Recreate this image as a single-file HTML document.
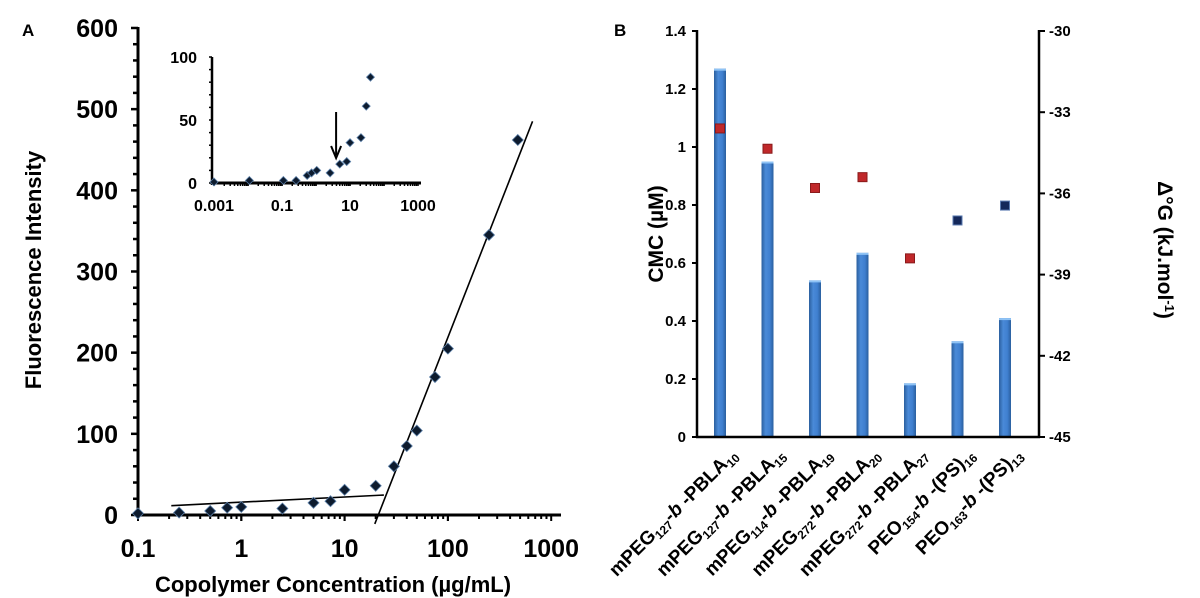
<!DOCTYPE html>
<html><head><meta charset="utf-8"><style>
html,body{margin:0;padding:0;background:#fff;}
svg{display:block;font-family:"Liberation Sans",Arial,sans-serif;font-weight:bold;}
</style></head><body>
<svg id="chart" width="1200" height="598" viewBox="0 0 1200 598">
<defs>
<linearGradient id="barg" x1="0" x2="1" y1="0" y2="0">
<stop offset="0" stop-color="#2a5f9e"/><stop offset="0.35" stop-color="#4a8ad8"/><stop offset="0.7" stop-color="#3f7fcf"/><stop offset="1" stop-color="#2a5f9e"/>
</linearGradient>
</defs>
<g id="pa"></g>
<g id="pb"></g>
</svg>
<script>
// Panel A data
const mainX = [0.1,0.25,0.5,0.73,1,2.5,5,7.3,10,20,30,40,50,75,100,250,475];
const mainY = [2,3,5,9,10,8,15,17,31,36,60,85,104,170,205,345,462];
const fitLowX = [0.21,24]; const fitLowY = [11.5,24.6];
const fitHighX = [19.6,660]; const fitHighY = [-11,485];
const mainYTicks = [0,100,200,300,400,500,600];
const mainXTicks = [0.1,1,10,100,1000];
const insetX = [0.001,0.011,0.11,0.26,0.55,0.74,1.05,2.6,5,8,10,21,30,40];
const insetY = [0.8,2,2,2,6,8,10,8,15,17,32,36,61,84];
const insetYTicks = [0,50,100];
const insetXTicks = [0.001,0.1,10,1000];
// Panel B data
const cats = ["mPEG|127|-b -PBLA|10","mPEG|127|-b -PBLA|15","mPEG|114|-b -PBLA|19","mPEG|272|-b -PBLA|20","mPEG|272|-b -PBLA|27","PEO|154|-b -(PS)|16","PEO|163|-b -(PS)|13"];
const cmc = [1.27,0.95,0.54,0.635,0.185,0.33,0.41];
const dG = [-33.6,-34.35,-35.8,-35.4,-38.4,-37.0,-36.45];
const dGColor = ["r","r","r","r","r","b","b"];
const cmcTicks = [0,0.2,0.4,0.6,0.8,1,1.2,1.4];
const dGTicks = [-45,-42,-39,-36,-33,-30];

const NS="http://www.w3.org/2000/svg";
function mk(parent,tag,attrs,text){const e=document.createElementNS(NS,tag);for(const k in attrs)e.setAttribute(k,attrs[k]);if(text!==undefined)e.textContent=text;parent.appendChild(e);return e;}
const pa=document.getElementById('pa'), pb=document.getElementById('pb');

// ---- Panel A main
const ax={x0:138,dec:103.3,y0:515,yk:0.8117};
const X=v=>ax.x0+(Math.log10(v)+1)*ax.dec;
const Y=v=>ax.y0-v*ax.yk;
let t=mk(pa,'text',{x:22,y:36,'font-size':17},'A');

let yl=mk(pa,'line',{x1:138,y1:27,x2:138,y2:517,stroke:'#000','stroke-width':3});

let xl=mk(pa,'line',{x1:136,y1:515,x2:561,y2:515,stroke:'#000','stroke-width':3});

for(let v=0;v<=600;v+=20){mk(pa,'line',{x1:v%100?133:131,y1:Y(v),x2:138,y2:Y(v),stroke:'#000','stroke-width':2.5});}
mainYTicks.forEach(v=>{const e=mk(pa,'text',{x:118,y:Y(v)+9,'text-anchor':'end','font-size':25},String(v));
});
for(let d=-1;d<3;d++){for(let m=1;m<=10;m++){const v=m*Math.pow(10,d);mk(pa,'line',{x1:X(v),y1:515,x2:X(v),y2:m==1||m==10?521:519,stroke:'#000','stroke-width':2});}}
mainXTicks.forEach(v=>{const e=mk(pa,'text',{x:X(v),y:557,'text-anchor':'middle','font-size':25},String(v));
});
t=mk(pa,'text',{x:333,y:592,'text-anchor':'middle','font-size':22},'Copolymer Concentration (µg/mL)');

t=mk(pa,'text',{x:0,y:0,transform:'translate(41,270) rotate(-90)','text-anchor':'middle','font-size':22},'Fluorescence Intensity');

let l1=mk(pa,'line',{x1:X(fitLowX[0]),y1:Y(fitLowY[0]),x2:X(fitLowX[1]),y2:Y(fitLowY[1]),stroke:'#000','stroke-width':1.6});

let l2=mk(pa,'line',{x1:X(fitHighX[0]),y1:Y(fitHighY[0]),x2:X(fitHighX[1]),y2:Y(fitHighY[1]),stroke:'#000','stroke-width':1.6});

function diamond(g,cx,cy,r){return mk(g,'path',{d:`M${cx} ${cy-r}L${cx+r} ${cy}L${cx} ${cy+r}L${cx-r} ${cy}Z`,fill:'#0d1b2e',stroke:'#5b7fa8','stroke-width':0.8});}
mainX.forEach((v,i)=>{const p=diamond(pa,X(v),Y(mainY[i]),5.5);
});

// ---- Inset
const ins={x0:214,dec:34,y0:183,yk:1.26};
const IX=v=>ins.x0+(Math.log10(v)+3)*ins.dec;
const IY=v=>ins.y0-v*ins.yk;
const ig=mk(pa,'g',{});

mk(ig,'line',{x1:212,y1:57,x2:212,y2:185,stroke:'#000','stroke-width':2.5});
mk(ig,'line',{x1:212,y1:183,x2:421,y2:183,stroke:'#000','stroke-width':3});
for(let v=0;v<=100;v+=10){mk(ig,'line',{x1:209,y1:IY(v),x2:212,y2:IY(v),stroke:'#000','stroke-width':1.5});}
insetYTicks.forEach(v=>{const e=mk(ig,'text',{x:197,y:IY(v)+6,'text-anchor':'end','font-size':16},String(v));
});
for(let d=-3;d<3;d++){for(let m=1;m<=10;m++){const v=m*Math.pow(10,d);mk(ig,'line',{x1:IX(v),y1:183,x2:IX(v),y2:186,stroke:'#000','stroke-width':1.5});}}
insetXTicks.forEach(v=>{const e=mk(ig,'text',{x:IX(v),y:211,'text-anchor':'middle','font-size':16},String(v));
});
insetX.forEach((v,i)=>{const p=diamond(ig,IX(v),IY(insetY[i]),4);
});
const ar=mk(ig,'g',{});

mk(ar,'line',{x1:IX(3.9),y1:112,x2:IX(3.9),y2:155,stroke:'#000','stroke-width':2});
mk(ar,'path',{d:`M${IX(3.9)-5} 146L${IX(3.9)} 158L${IX(3.9)+5} 146`,fill:'none',stroke:'#000','stroke-width':2});

// ---- Panel B
const bx={L:697,R:1039,y0:437,yTop:31};
const BY=v=>bx.y0-v/1.4*(bx.y0-bx.yTop);
const GY=v=>bx.y0-(v+45)/15*(bx.y0-bx.yTop);
const BX=i=>720+i*47.5;
t=mk(pb,'text',{x:614,y:36,'font-size':17},'B');

cmc.forEach((v,i)=>{const r=mk(pb,'rect',{x:BX(i)-6,y:BY(v),width:12,height:bx.y0-BY(v),fill:'url(#barg)'});

mk(pb,'rect',{x:BX(i)-6,y:BY(v),width:12,height:2,fill:'#8fc3f5'});});
let e=mk(pb,'line',{x1:697,y1:30,x2:697,y2:438,stroke:'#000','stroke-width':2.5});

e=mk(pb,'line',{x1:1039,y1:30,x2:1039,y2:438,stroke:'#000','stroke-width':2.5});

e=mk(pb,'line',{x1:696,y1:437,x2:1040,y2:437,stroke:'#000','stroke-width':2.5});

cmcTicks.forEach(v=>{mk(pb,'line',{x1:692,y1:BY(v),x2:697,y2:BY(v),stroke:'#000','stroke-width':2});
const q=mk(pb,'text',{x:686,y:BY(v)+5,'text-anchor':'end','font-size':15},String(v));
});
dGTicks.forEach(v=>{mk(pb,'line',{x1:1039,y1:GY(v),x2:1045,y2:GY(v),stroke:'#000','stroke-width':2});
const q=mk(pb,'text',{x:1049,y:GY(v)+5,'font-size':15},String(v));
});
t=mk(pb,'text',{x:0,y:0,transform:'translate(663,234) rotate(-90)','text-anchor':'middle','font-size':21},'CMC (µM)');

t=mk(pb,'text',{x:0,y:0,transform:'translate(1158,250) rotate(90)','text-anchor':'middle','font-size':21});

t.innerHTML='Δ°G (kJ.mol<tspan font-size="13" dy="-7">-1</tspan><tspan dy="7">)</tspan>';
dG.forEach((v,i)=>{const s=mk(pb,'rect',{x:BX(i)-4.5,y:GY(v)-4.5,width:9,height:9,fill:dGColor[i]=='r'?'#c0282a':'#14285a',stroke:dGColor[i]=='r'?'#8a1a1a':'#5a7ab0','stroke-width':1});
});
cats.forEach((c,i)=>{const p=c.split('|');
const q=mk(pb,'text',{x:0,y:0,transform:`translate(${BX(i)+18},${456}) rotate(-45)`,'text-anchor':'end','font-size':19});

q.innerHTML=`${p[0]}<tspan font-size="12" dy="4">${p[1]}</tspan><tspan dy="-4">${p[2].replace('b','<tspan font-style="italic">b</tspan>')}</tspan><tspan font-size="12" dy="4">${p[3]}</tspan>`;});
</script>
</body></html>
